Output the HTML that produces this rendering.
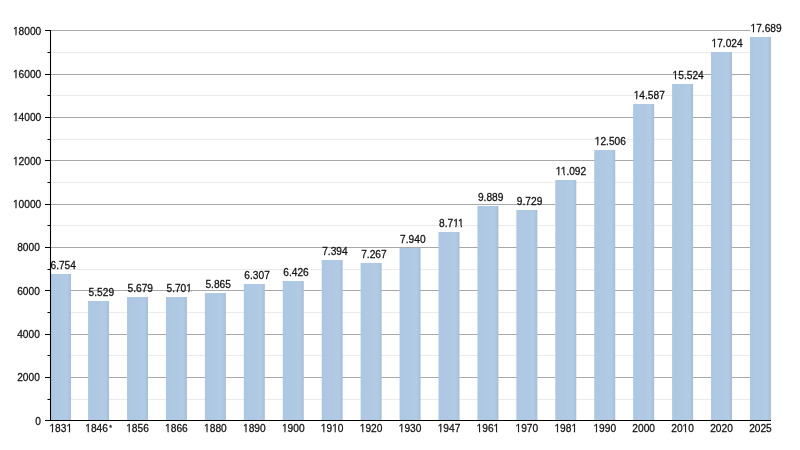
<!DOCTYPE html>
<html><head><meta charset="utf-8"><style>
html,body{margin:0;padding:0;background:#fff;width:800px;height:450px;overflow:hidden}
svg{display:block;will-change:transform}
text{font-family:"Liberation Sans",sans-serif;font-size:10.2px}
</style></head><body>
<svg width="800" height="450" viewBox="0 0 800 450">
<defs><linearGradient id="g" x1="0" x2="1" y1="0" y2="0">
<stop offset="0" stop-color="#adc6e2"/><stop offset="0.5" stop-color="#b0c9e3"/><stop offset="0.82" stop-color="#b1cbe6"/><stop offset="1" stop-color="#a9bdd5"/>
</linearGradient><mask id="ft" maskUnits="userSpaceOnUse" x="0" y="0" width="800" height="450"><rect width="800" height="450" fill="#fff"/><rect x="12.96" y="206.92" width="2.39" height="2.42"/><rect x="16.55" y="206.92" width="2.16" height="2.42"/><rect x="12.96" y="163.58" width="2.39" height="2.42"/><rect x="16.55" y="163.58" width="2.16" height="2.42"/><rect x="12.96" y="120.25" width="2.39" height="2.42"/><rect x="16.55" y="120.25" width="2.16" height="2.42"/><rect x="12.96" y="76.92" width="2.39" height="2.42"/><rect x="16.55" y="76.92" width="2.16" height="2.42"/><rect x="12.96" y="33.58" width="2.39" height="2.42"/><rect x="16.55" y="33.58" width="2.16" height="2.42"/><rect x="49.43" y="430.68" width="2.39" height="2.42"/><rect x="53.02" y="430.68" width="2.16" height="2.42"/><rect x="66.45" y="430.68" width="2.39" height="2.42"/><rect x="70.04" y="430.68" width="2.16" height="2.42"/><rect x="85.29" y="430.68" width="2.39" height="2.42"/><rect x="88.88" y="430.68" width="2.16" height="2.42"/><rect x="126.21" y="430.68" width="2.39" height="2.42"/><rect x="129.80" y="430.68" width="2.16" height="2.42"/><rect x="185.94" y="290.69" width="2.35" height="2.41"/><rect x="189.47" y="290.69" width="2.12" height="2.41"/><rect x="165.14" y="430.68" width="2.39" height="2.42"/><rect x="168.73" y="430.68" width="2.16" height="2.42"/><rect x="204.08" y="430.68" width="2.39" height="2.42"/><rect x="207.67" y="430.68" width="2.16" height="2.42"/><rect x="243.01" y="430.68" width="2.39" height="2.42"/><rect x="246.60" y="430.68" width="2.16" height="2.42"/><rect x="281.95" y="430.68" width="2.39" height="2.42"/><rect x="285.53" y="430.68" width="2.16" height="2.42"/><rect x="320.88" y="430.68" width="2.39" height="2.42"/><rect x="324.47" y="430.68" width="2.16" height="2.42"/><rect x="332.22" y="430.68" width="2.39" height="2.42"/><rect x="335.81" y="430.68" width="2.16" height="2.42"/><rect x="359.81" y="430.68" width="2.39" height="2.42"/><rect x="363.40" y="430.68" width="2.16" height="2.42"/><rect x="398.75" y="430.68" width="2.39" height="2.42"/><rect x="402.34" y="430.68" width="2.16" height="2.42"/><rect x="452.91" y="225.69" width="2.35" height="2.41"/><rect x="456.45" y="225.69" width="2.12" height="2.41"/><rect x="458.47" y="225.69" width="2.35" height="2.41"/><rect x="462.01" y="225.69" width="2.12" height="2.41"/><rect x="437.68" y="430.68" width="2.39" height="2.42"/><rect x="441.27" y="430.68" width="2.16" height="2.42"/><rect x="476.62" y="430.68" width="2.39" height="2.42"/><rect x="480.20" y="430.68" width="2.16" height="2.42"/><rect x="493.63" y="430.68" width="2.39" height="2.42"/><rect x="497.22" y="430.68" width="2.16" height="2.42"/><rect x="515.55" y="430.68" width="2.39" height="2.42"/><rect x="519.14" y="430.68" width="2.16" height="2.42"/><rect x="555.81" y="173.69" width="2.35" height="2.41"/><rect x="559.35" y="173.69" width="2.12" height="2.41"/><rect x="561.38" y="173.69" width="2.35" height="2.41"/><rect x="564.91" y="173.69" width="2.12" height="2.41"/><rect x="554.48" y="430.68" width="2.39" height="2.42"/><rect x="558.07" y="430.68" width="2.16" height="2.42"/><rect x="571.50" y="430.68" width="2.39" height="2.42"/><rect x="575.09" y="430.68" width="2.16" height="2.42"/><rect x="594.75" y="143.69" width="2.35" height="2.41"/><rect x="598.28" y="143.69" width="2.12" height="2.41"/><rect x="593.42" y="430.68" width="2.39" height="2.42"/><rect x="597.01" y="430.68" width="2.16" height="2.42"/><rect x="633.68" y="97.69" width="2.35" height="2.41"/><rect x="637.22" y="97.69" width="2.12" height="2.41"/><rect x="672.62" y="77.69" width="2.35" height="2.41"/><rect x="676.15" y="77.69" width="2.12" height="2.41"/><rect x="682.63" y="430.68" width="2.39" height="2.42"/><rect x="686.22" y="430.68" width="2.16" height="2.42"/><rect x="711.55" y="45.69" width="2.35" height="2.41"/><rect x="715.09" y="45.69" width="2.12" height="2.41"/><rect x="750.48" y="30.69" width="2.35" height="2.41"/><rect x="754.02" y="30.69" width="2.12" height="2.41"/></mask></defs>
<rect width="800" height="450" fill="#fff"/>
<line x1="50.5" y1="399.5" x2="750.5" y2="399.5" stroke="#ebebeb"/>
<line x1="47.5" y1="399.5" x2="50.5" y2="399.5" stroke="#000"/>
<line x1="50.5" y1="355.5" x2="750.5" y2="355.5" stroke="#ebebeb"/>
<line x1="47.5" y1="355.5" x2="50.5" y2="355.5" stroke="#000"/>
<line x1="50.5" y1="312.5" x2="750.5" y2="312.5" stroke="#ebebeb"/>
<line x1="47.5" y1="312.5" x2="50.5" y2="312.5" stroke="#000"/>
<line x1="50.5" y1="269.5" x2="750.5" y2="269.5" stroke="#ebebeb"/>
<line x1="47.5" y1="269.5" x2="50.5" y2="269.5" stroke="#000"/>
<line x1="50.5" y1="225.5" x2="750.5" y2="225.5" stroke="#ebebeb"/>
<line x1="47.5" y1="225.5" x2="50.5" y2="225.5" stroke="#000"/>
<line x1="50.5" y1="182.5" x2="750.5" y2="182.5" stroke="#ebebeb"/>
<line x1="47.5" y1="182.5" x2="50.5" y2="182.5" stroke="#000"/>
<line x1="50.5" y1="139.5" x2="750.5" y2="139.5" stroke="#ebebeb"/>
<line x1="47.5" y1="139.5" x2="50.5" y2="139.5" stroke="#000"/>
<line x1="50.5" y1="95.5" x2="750.5" y2="95.5" stroke="#ebebeb"/>
<line x1="47.5" y1="95.5" x2="50.5" y2="95.5" stroke="#000"/>
<line x1="50.5" y1="52.5" x2="750.5" y2="52.5" stroke="#ebebeb"/>
<line x1="47.5" y1="52.5" x2="50.5" y2="52.5" stroke="#000"/>
<line x1="50.5" y1="377.5" x2="750.5" y2="377.5" stroke="#a8a8a8"/>
<line x1="50.5" y1="334.5" x2="750.5" y2="334.5" stroke="#a8a8a8"/>
<line x1="50.5" y1="290.5" x2="750.5" y2="290.5" stroke="#a8a8a8"/>
<line x1="50.5" y1="247.5" x2="750.5" y2="247.5" stroke="#a8a8a8"/>
<line x1="50.5" y1="204.5" x2="750.5" y2="204.5" stroke="#a8a8a8"/>
<line x1="50.5" y1="160.5" x2="750.5" y2="160.5" stroke="#a8a8a8"/>
<line x1="50.5" y1="117.5" x2="750.5" y2="117.5" stroke="#a8a8a8"/>
<line x1="50.5" y1="74.5" x2="750.5" y2="74.5" stroke="#a8a8a8"/>
<line x1="50.5" y1="30.5" x2="750.5" y2="30.5" stroke="#a8a8a8"/>
<line x1="45" y1="420.5" x2="50.5" y2="420.5" stroke="#000"/>
<line x1="45" y1="377.5" x2="50.5" y2="377.5" stroke="#000"/>
<line x1="45" y1="334.5" x2="50.5" y2="334.5" stroke="#000"/>
<line x1="45" y1="290.5" x2="50.5" y2="290.5" stroke="#000"/>
<line x1="45" y1="247.5" x2="50.5" y2="247.5" stroke="#000"/>
<line x1="45" y1="204.5" x2="50.5" y2="204.5" stroke="#000"/>
<line x1="45" y1="160.5" x2="50.5" y2="160.5" stroke="#000"/>
<line x1="45" y1="117.5" x2="50.5" y2="117.5" stroke="#000"/>
<line x1="45" y1="74.5" x2="50.5" y2="74.5" stroke="#000"/>
<line x1="45" y1="30.5" x2="50.5" y2="30.5" stroke="#000"/>
<rect x="50.5" y="274" width="20.5" height="146" fill="url(#g)"/>
<rect x="88.09" y="301" width="21.0" height="119" fill="url(#g)"/>
<rect x="127.03" y="297" width="21.0" height="123" fill="url(#g)"/>
<rect x="165.96" y="297" width="21.0" height="123" fill="url(#g)"/>
<rect x="204.90" y="293" width="21.0" height="127" fill="url(#g)"/>
<rect x="243.83" y="284" width="21.0" height="136" fill="url(#g)"/>
<rect x="282.76" y="281" width="21.0" height="139" fill="url(#g)"/>
<rect x="321.70" y="260" width="21.0" height="160" fill="url(#g)"/>
<rect x="360.63" y="263" width="21.0" height="157" fill="url(#g)"/>
<rect x="399.57" y="248" width="21.0" height="172" fill="url(#g)"/>
<rect x="438.50" y="232" width="21.0" height="188" fill="url(#g)"/>
<rect x="477.43" y="206" width="21.0" height="214" fill="url(#g)"/>
<rect x="516.37" y="210" width="21.0" height="210" fill="url(#g)"/>
<rect x="555.30" y="180" width="21.0" height="240" fill="url(#g)"/>
<rect x="594.24" y="150" width="21.0" height="270" fill="url(#g)"/>
<rect x="633.17" y="104" width="21.0" height="316" fill="url(#g)"/>
<rect x="672.10" y="84" width="21.0" height="336" fill="url(#g)"/>
<rect x="711.04" y="52" width="21.0" height="368" fill="url(#g)"/>
<rect x="749.97" y="37" width="21.0" height="383" fill="url(#g)"/>
<line x1="50.5" y1="30" x2="50.5" y2="421" stroke="#000" stroke-width="1.1"/>
<line x1="45" y1="420.5" x2="771" y2="420.5" stroke="#000" stroke-width="1.1"/>
<g mask="url(#ft)" fill="#111" stroke="#111" stroke-width="0.25" stroke-linejoin="round">
<text transform="translate(35.13 424.60) scale(1 1.07)">0</text>
<text transform="translate(17.21 381.27) scale(1 1.07)">2000</text>
<text transform="translate(17.21 337.93) scale(1 1.07)">4000</text>
<text transform="translate(17.21 294.60) scale(1 1.07)">6000</text>
<text transform="translate(17.21 251.27) scale(1 1.07)">8000</text>
<text transform="translate(12.94 207.93) scale(1 1.07)">10000</text>
<text transform="translate(12.94 164.60) scale(1 1.07)">12000</text>
<text transform="translate(12.94 121.27) scale(1 1.07)">14000</text>
<text transform="translate(12.94 77.93) scale(1 1.07)">16000</text>
<text transform="translate(12.94 34.60) scale(1 1.07)">18000</text>
<text transform="translate(50.46 268.70) scale(1 1.09)" font-size="10.0">6.754</text>
<text transform="translate(49.40 431.70) scale(1 1.07)">1831</text>
<text transform="translate(88.59 295.70) scale(1 1.09)" font-size="10.0">5.529</text>
<text transform="translate(85.26 431.70) scale(1 1.07)">1846<tspan font-size="6.94" dx="1.4" dy="-1.5">*</tspan></text>
<text transform="translate(127.53 291.70) scale(1 1.09)" font-size="10.0">5.679</text>
<text transform="translate(126.18 431.70) scale(1 1.07)">1856</text>
<text transform="translate(166.46 291.70) scale(1 1.09)" font-size="10.0">5.701</text>
<text transform="translate(165.12 431.70) scale(1 1.07)">1866</text>
<text transform="translate(205.40 287.70) scale(1 1.09)" font-size="10.0">5.865</text>
<text transform="translate(204.05 431.70) scale(1 1.07)">1880</text>
<text transform="translate(244.33 278.70) scale(1 1.09)" font-size="10.0">6.307</text>
<text transform="translate(242.98 431.70) scale(1 1.07)">1890</text>
<text transform="translate(283.26 275.70) scale(1 1.09)" font-size="10.0">6.426</text>
<text transform="translate(281.92 431.70) scale(1 1.07)">1900</text>
<text transform="translate(322.20 254.70) scale(1 1.09)" font-size="10.0">7.394</text>
<text transform="translate(320.85 431.70) scale(1 1.07)">1910</text>
<text transform="translate(361.13 257.70) scale(1 1.09)" font-size="10.0">7.267</text>
<text transform="translate(359.79 431.70) scale(1 1.07)">1920</text>
<text transform="translate(400.07 242.70) scale(1 1.09)" font-size="10.0">7.940</text>
<text transform="translate(398.72 431.70) scale(1 1.07)">1930</text>
<text transform="translate(439.00 226.70) scale(1 1.09)" font-size="10.0">8.711</text>
<text transform="translate(437.65 431.70) scale(1 1.07)">1947</text>
<text transform="translate(477.93 200.70) scale(1 1.09)" font-size="10.0">9.889</text>
<text transform="translate(476.59 431.70) scale(1 1.07)">1961</text>
<text transform="translate(516.87 204.70) scale(1 1.09)" font-size="10.0">9.729</text>
<text transform="translate(515.52 431.70) scale(1 1.07)">1970</text>
<text transform="translate(555.80 174.70) scale(1 1.09)" font-size="10.0">11.092</text>
<text transform="translate(554.46 431.70) scale(1 1.07)">1981</text>
<text transform="translate(594.74 144.70) scale(1 1.09)" font-size="10.0">12.506</text>
<text transform="translate(593.39 431.70) scale(1 1.07)">1990</text>
<text transform="translate(633.67 98.70) scale(1 1.09)" font-size="10.0">14.587</text>
<text transform="translate(632.32 431.70) scale(1 1.07)">2000</text>
<text transform="translate(672.60 78.70) scale(1 1.09)" font-size="10.0">15.524</text>
<text transform="translate(671.26 431.70) scale(1 1.07)">2010</text>
<text transform="translate(711.54 46.70) scale(1 1.09)" font-size="10.0">17.024</text>
<text transform="translate(710.19 431.70) scale(1 1.07)">2020</text>
<text transform="translate(750.47 31.70) scale(1 1.09)" font-size="10.0">17.689</text>
<text transform="translate(749.13 431.70) scale(1 1.07)">2025</text>
</g>
</svg>
</body></html>
